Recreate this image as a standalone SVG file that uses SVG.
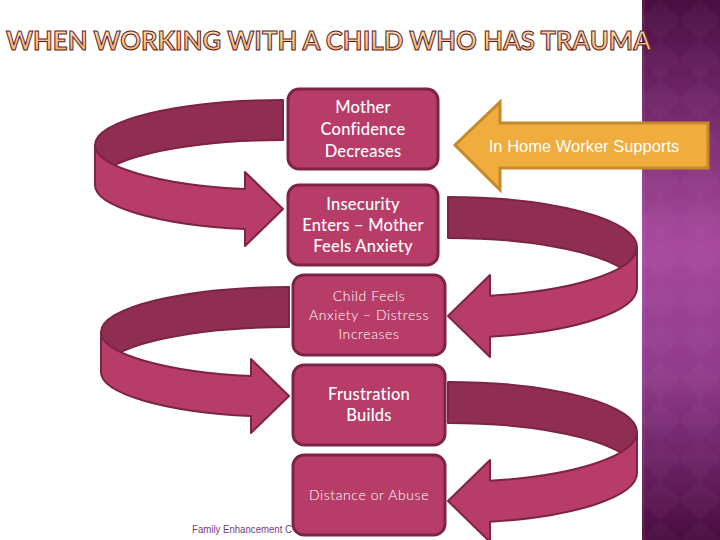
<svg xmlns="http://www.w3.org/2000/svg" width="720" height="540" viewBox="0 0 720 540">
<defs>
<linearGradient id="panel" x1="0" y1="0" x2="0" y2="1">
<stop offset="0" stop-color="#4a0e42"/>
<stop offset="0.45" stop-color="#a8499f"/>
<stop offset="0.7" stop-color="#8f3a8a"/>
<stop offset="1" stop-color="#4a0d40"/>
</linearGradient>
<linearGradient id="title" x1="0" y1="0" x2="0" y2="1">
<stop offset="0" stop-color="#fde8d4"/>
<stop offset="1" stop-color="#f2a85a"/>
</linearGradient>
<pattern id="diam" width="40" height="40" patternUnits="userSpaceOnUse">
<path d="M20 0 L40 20 L20 40 L0 20 Z" fill="#ffffff" fill-opacity="0.025"/>
</pattern>
<style>
.box{fill:#b83c68;stroke:#7d2446;stroke-width:3}
.back{fill:#902e52;stroke:#7d2446;stroke-width:2;stroke-linejoin:round}
.front{fill:#b83c68;stroke:#7d2446;stroke-width:2;stroke-linejoin:round}
.t{font-family:Lato,"Open Sans","DejaVu Sans",sans-serif;fill:#ffffff;text-anchor:middle}
.b{font-size:16.5px;font-weight:500;letter-spacing:0.2px}
.l{font-size:14px;font-weight:300;letter-spacing:0.6px}
</style>
</defs>
<rect width="720" height="540" fill="#ffffff"/>
<g id="panel-right">
<rect x="642" y="0" width="78" height="540" fill="url(#panel)"/>
<rect x="642" y="0" width="78" height="540" fill="url(#diam)"/>
<rect x="642" y="0" width="3" height="540" fill="#ffffff" fill-opacity="0.06"/>
</g>
<text id="title-text" x="6" y="50" font-family="Lato,'DejaVu Sans',sans-serif" font-weight="700" font-size="27" fill="url(#title)" stroke="#5a1a24" stroke-width="1" textLength="645" lengthAdjust="spacingAndGlyphs">WHEN WORKING WITH A CHILD WHO HAS TRAUMA</text>
<text id="footer" x="192" y="533" font-family="'Liberation Sans',Arial,sans-serif" font-size="10" fill="#7b3a7b" textLength="100" lengthAdjust="spacingAndGlyphs">Family Enhancement C</text>
<g id="connectors">
<g id="loop-left-1">
<path class="back" d="M283,100 A188,45 0 0 0 95,145 L95,185 A188,45 0 0 1 283,140 Z"/>
<path class="front" d="M95,145 A188,45 0 0 0 245,189.1 L245,172 L283,209 L245,246 L245,229.1 A188,45 0 0 1 95,185 Z"/>
</g>
<g id="loop-left-2" transform="translate(6,187)">
<path class="back" d="M283,100 A188,45 0 0 0 95,145 L95,185 A188,45 0 0 1 283,140 Z"/>
<path class="front" d="M95,145 A188,45 0 0 0 245,189.1 L245,172 L283,209 L245,246 L245,229.1 A188,45 0 0 1 95,185 Z"/>
</g>
<g id="loop-right-1">
<path class="back" d="M448,197 A189,50 0 0 1 637,247 L637,288 A189,50 0 0 0 448,238 Z"/>
<path class="front" d="M637,247 A189,50 0 0 1 490,295.8 L490,275 L448,316 L490,357 L490,336.8 A189,50 0 0 0 637,288 Z"/>
</g>
<g id="loop-right-2" transform="translate(0,185)">
<path class="back" d="M448,197 A189,50 0 0 1 637,247 L637,288 A189,50 0 0 0 448,238 Z"/>
<path class="front" d="M637,247 A189,50 0 0 1 490,295.8 L490,275 L448,316 L490,357 L490,336.8 A189,50 0 0 0 637,288 Z"/>
</g>
</g>
<g id="node-1">
<rect class="box" x="288" y="89" width="150" height="80" rx="11"/>
<text class="t b" x="363" y="113">Mother</text>
<text class="t b" x="363" y="135">Confidence</text>
<text class="t b" x="363" y="157">Decreases</text>
</g>
<g id="node-2">
<rect class="box" x="288" y="185" width="150" height="80" rx="11"/>
<text class="t b" x="363" y="210">Insecurity</text>
<text class="t b" x="363" y="231">Enters – Mother</text>
<text class="t b" x="363" y="252">Feels Anxiety</text>
</g>
<g id="node-3">
<rect class="box" x="293" y="275" width="152" height="80" rx="11"/>
<text class="t l" x="369" y="301">Child Feels</text>
<text class="t l" x="369" y="320">Anxiety – Distress</text>
<text class="t l" x="369" y="339">Increases</text>
</g>
<g id="node-4">
<rect class="box" x="293" y="365" width="152" height="80" rx="11"/>
<text class="t b" x="369" y="400">Frustration</text>
<text class="t b" x="369" y="421">Builds</text>
</g>
<g id="node-5">
<rect class="box" x="293" y="455" width="152" height="80" rx="11"/>
<text class="t l" x="369" y="500">Distance or Abuse</text>
</g>
<g id="support-arrow">
<path d="M455,145 L500,102 L500,123 L708,123 L708,168 L500,168 L500,190 Z" fill="#f0ac3c" stroke="#c3892b" stroke-width="3" stroke-linejoin="miter"/>
<text x="584" y="152" font-family="'Liberation Sans',Arial,sans-serif" font-size="16.5" fill="#ffffff" text-anchor="middle">In Home Worker Supports</text>
</g>
</svg>
